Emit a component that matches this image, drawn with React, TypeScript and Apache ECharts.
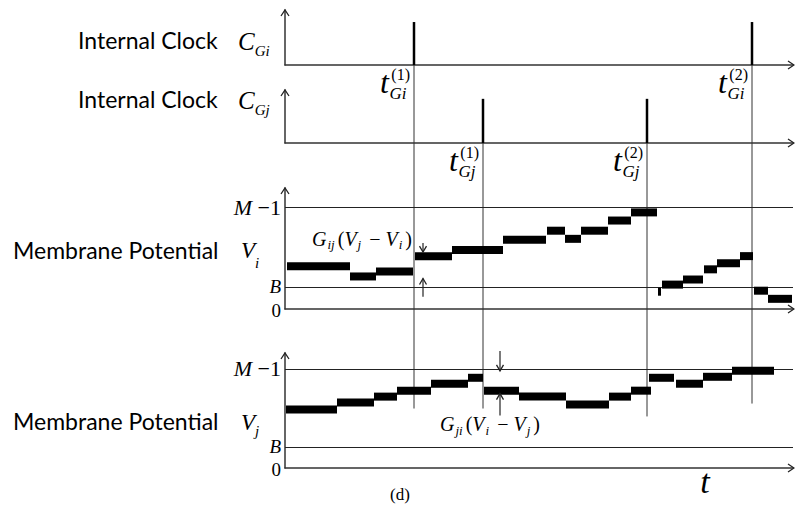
import React, { useEffect, useRef } from "react";
import * as echarts from "echarts";

// time axis runs 0..T_MAX
const T_MAX = 508;
// firing times of the two internal clocks
const clockITimes = [129, 467];
const clockJTimes = [198, 362];
const clockILabels = ["(1)", "(2)"];
const clockJLabels = ["(1)", "(2)"];

// membrane potential V_i : piecewise-constant segments [start, end) and level
const viStart = [2, 65, 91, 130, 167, 218, 262, 280, 296, 323, 346, 373, 377, 398, 419, 432, 455, 469, 483];
const viEnd = [65, 91, 128, 167, 218, 261, 280, 296, 323, 346, 372, 376, 398, 418, 432, 455, 468, 483, 507];
const viLevel = [42, 32, 37, 52, 58, 68, 77, 69, 77, 87, 95, 17, 24, 29, 39, 45, 52, 18, 10];

// membrane potential V_j
const vjStart = [1, 52, 89, 112, 146, 183, 199, 234, 281, 324, 346, 364, 391, 418, 447];
const vjEnd = [52, 89, 112, 146, 183, 198, 234, 281, 324, 346, 366, 389, 418, 447, 489];
const vjLevel = [59, 66, 72, 78, 85, 91, 78, 72, 64, 72, 78, 91, 85, 92, 98];

// reference levels and their tick labels
const M1 = 100; // M - 1
const B = 21;
const levelTicks = [0, B, M1];
const levelTickLabels = ["{z|0}", "{i|B}", "{i|M}{n| −1}"];

// lower ends of the thin guide lines (in V_j units)
const guideEndI = [60, 65];
const guideEndJ = [60, 52];

export default function App() {
  const ref = useRef<HTMLDivElement>(null);
  useEffect(() => {
    const el = ref.current;
    if (!el) return;
    const chart = echarts.init(el, null, { renderer: "svg" });
    const SERIF = "'Liberation Serif', 'Times New Roman', serif";
    const SANS = "Lato, 'Open Sans', sans-serif";
    const AX = "#333";

    const boxes = [
      { top: 10, height: 55, max: 1.28 },
      { top: 90, height: 53, max: 1.2 },
      { top: 188, height: 121, max: 119 },
      { top: 353, height: 115, max: 116 },
    ];
    const grid = boxes.map((b) => ({ left: 285, width: 508, top: b.top, height: b.height, outerBoundsMode: "none" }));
    const xAxis = boxes.map((_, i) => ({
      type: "value",
      gridIndex: i,
      min: 0,
      max: T_MAX,
      axisLine: { show: true, onZero: false, lineStyle: { color: AX, width: 1.5 } },
      axisTick: { show: false },
      axisLabel: { show: false },
      splitLine: { show: false },
    }));
    const yAxis = boxes.map((b, i) => ({
      type: "value",
      gridIndex: i,
      min: 0,
      max: b.max,
      axisLine: { show: true, onZero: false, lineStyle: { color: AX, width: 1.5 } },
      axisTick: { show: false },
      splitLine: { show: false },
      axisLabel: { show: false },
    }));

    const spikeItem = (_p: any, api: any) => {
      const a = api.coord([api.value(0), 0]);
      const b = api.coord([api.value(0), api.value(1)]);
      return {
        type: "line",
        shape: { x1: a[0], y1: a[1], x2: b[0], y2: b[1] },
        style: { stroke: "#000", lineWidth: 2.5 },
      };
    };
    const stepItem = (_p: any, api: any) => {
      const a = api.coord([api.value(0), api.value(2)]);
      const b = api.coord([api.value(1), api.value(2)]);
      return {
        type: "rect",
        shape: { x: a[0], y: a[1] - 4, width: b[0] - a[0], height: 8 },
        style: { fill: "#000" },
      };
    };
    const refLines = {
      silent: true,
      symbol: ["none", "none"],
      label: { show: false },
      lineStyle: { color: "#222", width: 1.2, type: "solid" },
      data: [{ yAxis: M1 }, { yAxis: B }],
    };

    chart.setOption({
      animation: false,
      backgroundColor: "#fff",
      textStyle: { fontFamily: SERIF },
      grid,
      xAxis,
      yAxis,
      series: [
        {
          type: "custom",
          xAxisIndex: 0,
          yAxisIndex: 0,
          renderItem: spikeItem,
          encode: { x: 0, y: 1 },
          data: clockITimes.map((t) => [t, 1]),
          z: 5,
        },
        {
          type: "custom",
          xAxisIndex: 1,
          yAxisIndex: 1,
          renderItem: spikeItem,
          encode: { x: 0, y: 1 },
          data: clockJTimes.map((t) => [t, 1]),
          z: 5,
        },
        {
          type: "custom",
          xAxisIndex: 2,
          yAxisIndex: 2,
          renderItem: stepItem,
          encode: { x: [0, 1], y: 2 },
          data: viStart.map((s, k) => [s, viEnd[k], viLevel[k]]),
          markLine: refLines,
          z: 5,
        },
        {
          type: "custom",
          xAxisIndex: 3,
          yAxisIndex: 3,
          renderItem: stepItem,
          encode: { x: [0, 1], y: 2 },
          data: vjStart.map((s, k) => [s, vjEnd[k], vjLevel[k]]),
          markLine: refLines,
          z: 5,
        },
      ],
    });

    const P = (g: number, t: number, v: number) => chart.convertToPixel({ gridIndex: g } as any, [t, v]) as number[];
    const gfx: any[] = [];
    const line = (x1: number, y1: number, x2: number, y2: number, w = 1, c = "#333") =>
      gfx.push({ type: "line", silent: true, z: 1, shape: { x1, y1, x2, y2 }, style: { stroke: c, lineWidth: w } });
    const chev = (x: number, y: number, dir: string, s = 4, l = 6) => {
      let pts: number[][] = [];
      if (dir === "up") pts = [[x - s, y + l], [x, y], [x + s, y + l]];
      if (dir === "down") pts = [[x - s, y - l], [x, y], [x + s, y - l]];
      if (dir === "right") pts = [[x - l, y - s], [x, y], [x - l, y + s]];
      gfx.push({ type: "polyline", silent: true, z: 10, shape: { points: pts }, style: { stroke: "#222", lineWidth: 1.3, fill: null } });
    };
    const text = (t: string, x: number, y: number, font: string, align = "left", extra: any = {}) =>
      gfx.push({
        type: "text",
        silent: true,
        z: 10,
        style: { text: t, x, y, font, fill: "#000", textAlign: align, textVerticalAlign: "middle", ...extra },
      });

    // axis arrows
    boxes.forEach((b, g) => {
      const [x0, yTop] = P(g, 0, b.max);
      chev(x0, yTop, "up");
      const [xR, yB] = P(g, T_MAX, 0);
      chev(xR + 1, yB, "right");
    });

    // level tick labels on the two membrane-potential axes
    const trich = {
      i: { fontFamily: SERIF, fontStyle: "italic", fontSize: 22, color: "#000", verticalAlign: "middle" },
      b: { fontFamily: SERIF, fontStyle: "italic", fontSize: 19, color: "#000", verticalAlign: "middle" },
      n: { fontFamily: SERIF, fontSize: 22, color: "#000", verticalAlign: "middle" },
      z: { fontFamily: SERIF, fontSize: 19, color: "#000", verticalAlign: "middle" },
    };
    const labelShift = [1, -1, 0];
    [2, 3].forEach((g) => {
      levelTicks.forEach((v, k) => {
        const [x, y] = P(g, 0, v);
        const txt = levelTickLabels[k].replace("{i|B}", "{b|B}");
        text(txt, x - 4, y + labelShift[k], `19px ${SERIF}`, "right", { rich: trich });
      });
    });

    // guide lines and clock labels
    const tLabel = (X: number, Y: number, sup: string, sub: string) => {
      text("t", X - 25, Y + 17, `italic 32px ${SERIF}`, "right");
      text(sup, X - 4, Y + 9, `16px ${SERIF}`, "right");
      text(sub, X - 24.5, Y + 28, `italic 17px ${SERIF}`, "left");
    };
    clockITimes.forEach((t, k) => {
      const [x, y0] = P(0, t, 0);
      const [, y1] = P(3, t, guideEndI[k]);
      line(x, y0, x, y1);
      tLabel(x, y0, clockILabels[k], "Gi");
    });
    clockJTimes.forEach((t, k) => {
      const [x, y0] = P(1, t, 0);
      const [, y1] = P(3, t, guideEndJ[k]);
      line(x, y0, x, y1);
      tLabel(x, y0, clockJLabels[k], "Gj");
    });

    // coupling annotations
    const annoI = { t: 138, downTop: 65, downTip: 56, upTip: 30, upBottom: 12, label: 69 };
    const annoJ = { t: 215, downTop: 118, downTip: 98, upTip: 75, upBottom: 53, label: 44 };
    const annot = (g: number, a: any) => {
      const [x, yd0] = P(g, a.t, a.downTop);
      const [, yd1] = P(g, a.t, a.downTip);
      const [, yu0] = P(g, a.t, a.upTip);
      const [, yu1] = P(g, a.t, a.upBottom);
      line(x, yd0, x, yd1, 1.2, "#222");
      chev(x, yd1, "down", 3.5, 6);
      line(x, yu0, x, yu1, 1.2, "#222");
      chev(x, yu0, "up", 3.5, 6);
      return P(g, a.t, a.label);
    };
    const mrich = {
      it: { fontFamily: SERIF, fontStyle: "italic", fontSize: 20, color: "#000", verticalAlign: "middle" },
      n: { fontFamily: SERIF, fontSize: 20, color: "#000", verticalAlign: "middle" },
      sb: { fontFamily: SERIF, fontStyle: "italic", fontSize: 13, color: "#000", verticalAlign: "middle", padding: [12, 3, 0, 1] },
    };
    const [lxI, lyI] = annot(2, annoI);
    text("{it|G}{sb|ij}{n|(}{it|V}{sb|j}{n| − }{it|V}{sb|i}{n|)}", lxI - 11, lyI, `20px ${SERIF}`, "right", { rich: mrich });
    const [lxJ, lyJ] = annot(3, annoJ);
    text("{it|G}{sb|ji}{n|(}{it|V}{sb|i}{n| − }{it|V}{sb|j}{n|)}", lxJ - 10, lyJ, `20px ${SERIF}`, "center", { rich: mrich });

    // left titles
    const srich = (pad: number) => ({
      c: { fontFamily: SERIF, fontStyle: "italic", fontSize: 25, color: "#000", verticalAlign: "middle" },
      v: { fontFamily: SERIF, fontStyle: "italic", fontSize: 23, color: "#000", verticalAlign: "middle" },
      s: { fontFamily: SERIF, fontStyle: "italic", fontSize: 15, color: "#000", verticalAlign: "middle", padding: [pad, 0, 0, 0] },
    });
    text("Internal Clock", 78, 40, `23px ${SANS}`);
    text("{c|C}{s|Gi}", 238, 41.5, `25px ${SERIF}`, "left", { rich: srich(19) });
    text("Internal Clock", 78, 99, `23px ${SANS}`);
    text("{c|C}{s|Gj}", 238, 100.8, `25px ${SERIF}`, "left", { rich: srich(19) });
    text("Membrane Potential", 13, 250, `23px ${SANS}`);
    text("{v|V}{s|i}", 241, 250.5, `23px ${SERIF}`, "left", { rich: srich(25) });
    text("Membrane Potential", 13, 421, `23px ${SANS}`);
    text("{v|V}{s|j}", 241, 422, `23px ${SERIF}`, "left", { rich: srich(17) });

    text("(d)", 400, 494, `17px ${SERIF}`, "center");
    text("t", 705, 481, `italic 34px ${SERIF}`, "center");

    chart.setOption({ graphic: { elements: gfx } });

    return () => chart.dispose();
  }, []);
  return <div ref={ref} style={{ position: "absolute", left: 0, top: 0, width: 795, height: 509 }} />;
}
